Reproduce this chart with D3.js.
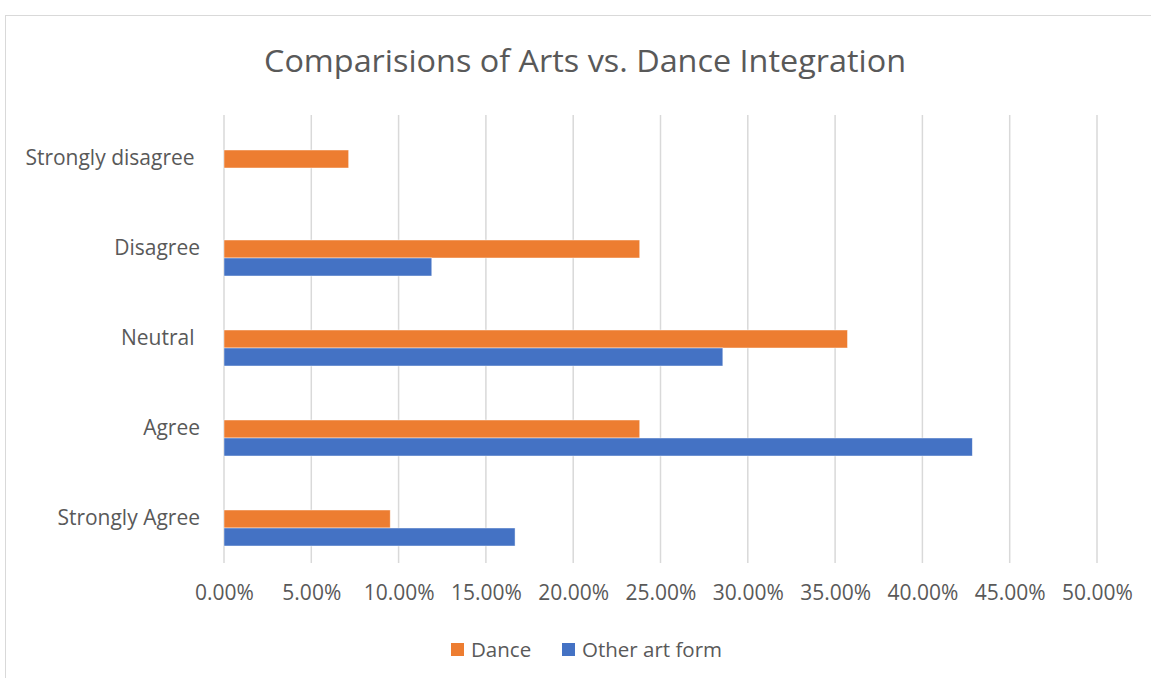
<!DOCTYPE html>
<html>
<head>
<meta charset="utf-8">
<script src="https://cdn.jsdelivr.net/npm/d3@7"></script>
<style>
  html, body { margin: 0; padding: 0; background: #fff; }
  svg text { font-family: "Open Sans", "Noto Sans", sans-serif; fill: #595959; white-space: pre; }
</style>
</head>
<body>
<svg id="chart" width="1151" height="678"></svg>
<script>
// Survey responses, share of respondents (%)
const categories = ["Strongly disagree ", "Disagree", "Neutral ", "Agree", "Strongly Agree"];
const danceValues = [7.14, 23.81, 35.71, 23.81, 9.52];
const otherValues = [0, 11.90, 28.57, 42.86, 16.67];
const seriesNames = ["Dance", "Other art form"];
const seriesColors = ["#ED7D31", "#4472C4"];
const tickValues = [0, 5, 10, 15, 20, 25, 30, 35, 40, 45, 50];

const svg = d3.select("#chart");
const W = 1151, H = 678;

// outer chart frame
svg.append("rect")
  .attr("x", 5.5).attr("y", 15.5)
  .attr("width", W + 10).attr("height", H)
  .attr("fill", "#fff").attr("stroke", "#d9d9d9").attr("stroke-width", 1);

const plot = { left: 224, right: 1097, top: 113, bottom: 563 };

const x = d3.scaleLinear().domain([0, 50]).range([plot.left, plot.right]);
const y = d3.scaleBand().domain(categories).range([plot.top, plot.bottom]);

// title
svg.append("text")
  .attr("x", 585).attr("y", 72)
  .attr("text-anchor", "middle")
  .attr("font-size", 31)
  .attr("textLength", 642)
  .attr("lengthAdjust", "spacingAndGlyphs")
  .text("Comparisions of Arts vs. Dance Integration");

// vertical gridlines
svg.append("g")
  .selectAll("line")
  .data(tickValues)
  .join("line")
  .attr("x1", d => x(d)).attr("x2", d => x(d))
  .attr("y1", plot.top + 2).attr("y2", plot.bottom)
  .attr("stroke", "#d9d9d9").attr("stroke-width", 1.5);

// x axis tick labels
const xAxis = d3.axisBottom(x)
  .tickValues(tickValues)
  .tickSize(0)
  .tickPadding(0)
  .tickFormat(d => d.toFixed(2) + "%");
const gx = svg.append("g")
  .attr("transform", `translate(0,${plot.bottom + 22})`)
  .call(xAxis);
gx.select(".domain").remove();
gx.selectAll("text")
  .attr("font-size", 21)
  .attr("fill", "#595959")
  .attr("font-family", "Open Sans, Noto Sans, sans-serif");

// category labels
const yAxis = d3.axisLeft(y).tickSize(0).tickPadding(0);
const gy = svg.append("g")
  .attr("transform", `translate(${plot.left - 24},0)`)
  .call(yAxis);
gy.select(".domain").remove();
gy.selectAll("text")
  .attr("font-size", 21)
  .attr("fill", "#595959")
  .attr("font-family", "Open Sans, Noto Sans, sans-serif")
  .attr("dy", "0.35em")
  .style("white-space", "pre");

// bars: Dance above, Other art form below, each 18px tall
const barH = 18;
const series = [danceValues, otherValues];
series.forEach((vals, si) => {
  svg.append("g")
    .selectAll("rect")
    .data(vals.map((v, i) => ({ v, c: categories[i] })))
    .join("rect")
    .attr("x", x(0))
    .attr("y", d => y(d.c) + y.bandwidth() / 2 - 8 + si * barH)
    .attr("width", d => x(d.v) - x(0))
    .attr("height", barH)
    .attr("fill", seriesColors[si])
    .attr("stroke", "#fff")
    .attr("stroke-opacity", 0.6)
    .attr("stroke-width", 0.75);
});

// legend
const legend = svg.append("g");
const legendItems = [
  { name: seriesNames[0], color: seriesColors[0], sx: 451 },
  { name: seriesNames[1], color: seriesColors[1], sx: 562 }
];
legendItems.forEach(it => {
  legend.append("rect")
    .attr("x", it.sx).attr("y", 643)
    .attr("width", 13).attr("height", 13)
    .attr("fill", it.color);
  legend.append("text")
    .attr("x", it.sx + 20).attr("y", 657)
    .attr("font-size", 20.5)
    .text(it.name);
});
</script>
</body>
</html>
